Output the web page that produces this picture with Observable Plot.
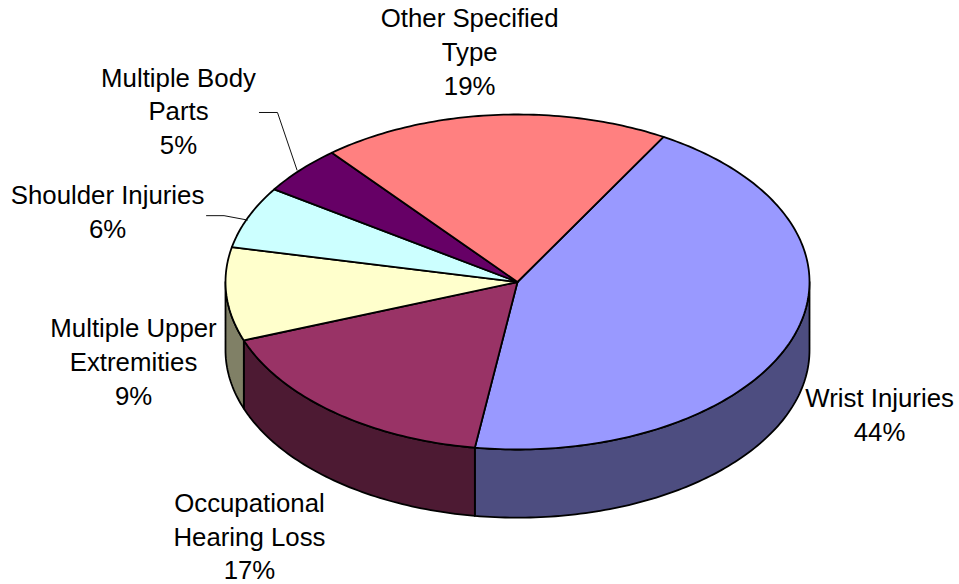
<!DOCTYPE html>
<html>
<head>
<meta charset="utf-8">
<script src="https://cdn.jsdelivr.net/npm/d3@7"></script>
<script src="https://cdn.jsdelivr.net/npm/@observablehq/plot@0.6"></script>
<style>
  html, body { margin: 0; padding: 0; background: #fff; }
  svg { display: block; }
</style>
</head>
<body>
<div id="chart"></div>
<script>
// Data, clockwise from the first slice
const categories = ["Wrist Injuries", "Occupational\nHearing Loss", "Multiple Upper\nExtremities", "Shoulder Injuries", "Multiple Body\nParts", "Other Specified\nType"];
const percents = [44, 17, 9, 6, 4.7, 19.3];
const topColors = ["#9999FF", "#993366", "#FFFFCC", "#CCFFFF", "#660066", "#FF8080"];
const sideColors = ["#4D4D80", "#4D1A33", "#808066", "#668080", "#330033", "#804040"];

// Layout, in pie units (the top ellipse has radius 1 on each axis)
const startAngle = 30;
const depth = 0.407;
const labelX = [1.240, -0.918, -1.315, -1.404, -1.161, -0.164];
const labelY = [-0.796, -1.521, -0.479, 0.419, 1.018, 1.371];
const leaders = [
  {id: "body", xs: [-0.884, -0.822, -0.755], ys: [1.012, 1.012, 0.668]},
  {id: "shoulder", xs: [-1.065, -1.005, -0.925], ys: [0.396, 0.396, 0.370]}
];

const total = d3.sum(percents);
const rad = (a) => a * Math.PI / 180;
let cursor = startAngle;
const slices = percents.map((p, i) => {
  const a0 = cursor;
  cursor += p / total * 360;
  return {i, a0, a1: cursor};
});
const arc = (a0, a1) => {
  const n = Math.max(2, Math.ceil(a1 - a0));
  return d3.range(n + 1).map((k) => a0 + (a1 - a0) * k / n);
};

// Top wedges
const topPoints = slices.flatMap((s) => [
  {slice: s.i, x: 0, y: 0, fill: topColors[s.i]},
  ...arc(s.a0, s.a1).map((a) => ({slice: s.i, x: Math.sin(rad(a)), y: Math.cos(rad(a)), fill: topColors[s.i]}))
]);

// Visible rim: the part of each slice on the near half of the ellipse
const sidePoints = slices.flatMap((s) => {
  const lo = Math.max(s.a0, 90), hi = Math.min(s.a1, 270);
  if (hi <= lo) return [];
  const a = arc(lo, hi);
  const rim = (t, dy) => ({slice: s.i, x: Math.sin(rad(t)), y: Math.cos(rad(t)) - dy, fill: sideColors[s.i]});
  return [...a.map((t) => rim(t, 0)), ...a.slice().reverse().map((t) => rim(t, depth))];
});

const leaderPoints = leaders.flatMap((l) => l.xs.map((x, k) => ({id: l.id, x, y: l.ys[k]})));
const labels = categories.map((c, i) => ({text: `${c}\n${Math.round(percents[i])}%`, x: labelX[i], y: labelY[i]}));

const chart = Plot.plot({
  width: 959,
  height: 584,
  margin: 0,
  style: {background: "#fff"},
  x: {domain: [-1, 1], range: [225, 809], axis: null},
  y: {domain: [-1, 1], range: [449, 114], axis: null},
  marks: [
    Plot.line(sidePoints, {x: "x", y: "y", z: "slice", fill: "fill", stroke: "#000", strokeWidth: 1.8, curve: "linear-closed"}),
    Plot.line(topPoints, {x: "x", y: "y", z: "slice", fill: "fill", stroke: "#000", strokeWidth: 1.8, curve: "linear-closed"}),
    Plot.line(leaderPoints, {x: "x", y: "y", z: "id", stroke: "#111", strokeWidth: 1}),
    Plot.text(labels, {x: "x", y: "y", dy: -2, text: "text", fontSize: 25.8, lineHeight: 1.31, lineAnchor: "middle", textAnchor: "middle", fill: "#000", fontFamily: "'Liberation Sans', Arial, sans-serif"})
  ]
});
document.getElementById("chart").append(chart);
</script>
</body>
</html>
